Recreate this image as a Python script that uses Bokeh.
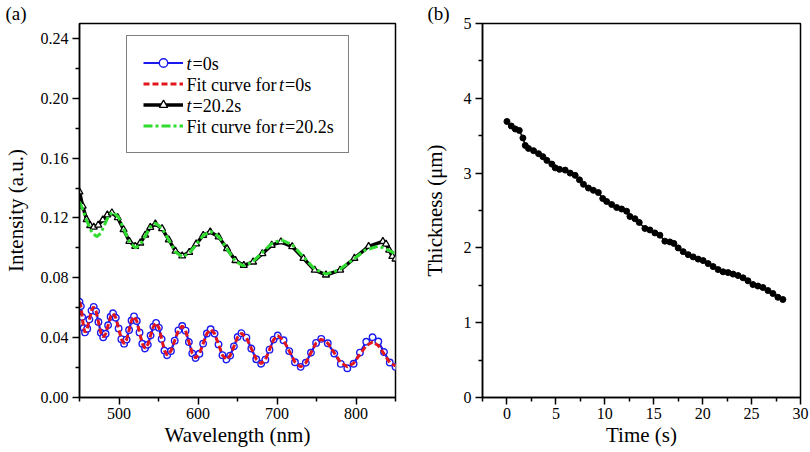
from bokeh.plotting import figure
from bokeh.layouts import row
from bokeh.models import FixedTicker, NumeralTickFormatter, Legend, LegendItem, Label, Range1d, Title
from bokeh.embed import file_html
from bokeh.resources import INLINE

FONT = "Liberation Serif"
BLUE = "#1a1af0"
RED = "#e3161d"
BLACK = "#000000"
GREEN = "#2fdc2f"

# ---------------- panel (a) data ----------------
wl_t0 = [450, 451.75, 453.5, 455.25,
         457, 459.75, 462.5, 465.25,
         468, 471, 474, 477,
         480, 483.1, 486.25, 489.4,
         492.5, 496, 499.5, 503,
         506.5, 509.6, 512.75, 515.9,
         519, 522.5, 526, 529.5,
         533, 536.5, 540, 543.5,
         547, 550.5, 554, 557.5,
         561, 565.75, 570.5, 575.25,
         580, 584.25, 588.5, 592.75,
         597, 601.75, 606.5, 611.25,
         616, 621, 626, 631,
         636, 640.75, 645.5, 650.25,
         655, 661.25, 667.5, 673.75,
         680, 685.25, 690.5, 695.75,
         701, 708.25, 715.5, 722.75,
         730, 736.5, 743, 749.5,
         756, 764.25, 772.5, 780.75,
         789, 797, 805, 813,
         821, 828.25, 835.5, 842.75,
         850]
int_t0 = [0.0640, 0.0610, 0.0538, 0.0465,
          0.0435, 0.0460, 0.0521, 0.0581,
          0.0606, 0.0576, 0.0505, 0.0433,
          0.0403, 0.0426, 0.0483, 0.0540,
          0.0563, 0.0533, 0.0462, 0.0390,
          0.0360, 0.0387, 0.0451, 0.0515,
          0.0542, 0.0511, 0.0435, 0.0359,
          0.0328, 0.0353, 0.0414, 0.0474,
          0.0499, 0.0467, 0.0391, 0.0314,
          0.0282, 0.0311, 0.0380, 0.0449,
          0.0478, 0.0447, 0.0371, 0.0295,
          0.0264, 0.0292, 0.0360, 0.0428,
          0.0456, 0.0427, 0.0355, 0.0283,
          0.0254, 0.0280, 0.0342, 0.0404,
          0.0430, 0.0400, 0.0328, 0.0256,
          0.0226, 0.0253, 0.0320, 0.0387,
          0.0414, 0.0383, 0.0310, 0.0236,
          0.0205, 0.0232, 0.0299, 0.0365,
          0.0392, 0.0363, 0.0294, 0.0225,
          0.0196, 0.0226, 0.0300, 0.0373,
          0.0403, 0.0374, 0.0304, 0.0234,
          0.0205]
fit_t0 = [0.0640, 0.0610, 0.0538, 0.0465,
          0.0435, 0.0460, 0.0521, 0.0581,
          0.0606, 0.0576, 0.0505, 0.0433,
          0.0403, 0.0426, 0.0483, 0.0540,
          0.0563, 0.0533, 0.0462, 0.0390,
          0.0360, 0.0387, 0.0451, 0.0515,
          0.0542, 0.0511, 0.0435, 0.0359,
          0.0328, 0.0353, 0.0414, 0.0474,
          0.0499, 0.0467, 0.0391, 0.0314,
          0.0282, 0.0311, 0.0380, 0.0449,
          0.0478, 0.0447, 0.0371, 0.0295,
          0.0264, 0.0292, 0.0360, 0.0428,
          0.0456, 0.0427, 0.0355, 0.0283,
          0.0254, 0.0280, 0.0342, 0.0404,
          0.0430, 0.0400, 0.0328, 0.0256,
          0.0226, 0.0253, 0.0320, 0.0387,
          0.0414, 0.0383, 0.0310, 0.0236,
          0.0205, 0.0232, 0.0299, 0.0365,
          0.0390, 0.0363, 0.0298, 0.0232,
          0.0205, 0.0229, 0.0288, 0.0347,
          0.0371, 0.0347, 0.0291, 0.0234,
          0.0210]

wl_t20 = [450, 454, 459, 463.5,
          468, 473.75, 479.5, 485.25,
          491, 498.4, 505.75, 513.1,
          520.5, 526.9, 533.25, 539.6,
          546, 554.5, 563, 571.5,
          580, 588.9, 597.75, 606.6,
          615.5, 626.1, 636.75, 647.4,
          658, 669.75, 681.5, 693.25,
          705, 719.25, 733.5, 747.75,
          762, 780, 798, 816,
          834, 838, 842, 846,
          850]
int_t20 = [0.1374, 0.1280, 0.1190, 0.1150,
           0.1139, 0.1153, 0.1187, 0.1221,
           0.1235, 0.1202, 0.1123, 0.1044,
           0.1011, 0.1033, 0.1086, 0.1138,
           0.1160, 0.1129, 0.1054, 0.0978,
           0.0947, 0.0970, 0.1027, 0.1084,
           0.1107, 0.1074, 0.0995, 0.0916,
           0.0883, 0.0906, 0.0962, 0.1018,
           0.1041, 0.1009, 0.0930, 0.0851,
           0.0819, 0.0852, 0.0931, 0.1010,
           0.1043, 0.1026, 0.0985, 0.0943,
           0.0926]

wl_fit20 = [450, 455, 460, 466,
            472, 477, 482, 487,
            492, 499.25, 506.5, 513.75,
            521, 527.25, 533.5, 539.75,
            546, 554.5, 563, 571.5,
            580, 589, 598, 607,
            616, 626.25, 636.5, 646.75,
            657, 669, 681, 693,
            705, 719.25, 733.5, 747.75,
            762, 778.5, 795, 811.5,
            828, 835.5, 843, 850]
fit_t20 = [0.1310, 0.1245, 0.1170, 0.1100,
           0.1075, 0.1099, 0.1158, 0.1216,
           0.1240, 0.1205, 0.1120, 0.1035,
           0.1000, 0.1024, 0.1083, 0.1141,
           0.1165, 0.1132, 0.1053, 0.0973,
           0.0940, 0.0965, 0.1025, 0.1085,
           0.1110, 0.1076, 0.0995, 0.0914,
           0.0880, 0.0905, 0.0967, 0.1029,
           0.1054, 0.1021, 0.0940, 0.0858,
           0.0825, 0.0852, 0.0918, 0.0984,
           0.1011, 0.1000, 0.0980, 0.0960]

a_x_ticks = [500, 600, 700, 800]
a_x_minor = [450, 550, 650, 750, 850]
a_y_ticks = [0.0, 0.04, 0.08, 0.12, 0.16, 0.20, 0.24]
a_y_minor = [0.02, 0.06, 0.10, 0.14, 0.18, 0.22]

# ---------------- panel (b) data ----------------
time_s = [0, 0.44, 0.85, 1.26, 1.63, 1.87, 2.2, 2.72, 3.23, 3.67,
          4.08, 4.59, 4.93, 5.37, 5.95, 6.46, 6.97, 7.41, 7.82, 8.33,
          8.83, 9.34, 9.79, 10.19, 10.7, 11.21, 11.72, 12.23, 12.57, 13.08,
          13.52, 14.1, 14.61, 15.12, 15.63, 16.14, 16.65, 17.06, 17.5, 18.01,
          18.52, 19.03, 19.54, 20.05, 20.56, 21.07, 21.58, 22.09, 22.6, 23.11,
          23.62, 24.13, 24.63, 25.14, 25.65, 26.16, 26.67, 27.18, 27.69, 28.2]
thickness_um = [3.69, 3.63, 3.59, 3.57, 3.47, 3.37, 3.33, 3.30, 3.26, 3.22,
                3.17, 3.12, 3.07, 3.05, 3.04, 3.00, 2.97, 2.91, 2.85, 2.80,
                2.77, 2.74, 2.66, 2.62, 2.58, 2.54, 2.52, 2.49, 2.42, 2.39,
                2.34, 2.26, 2.24, 2.20, 2.17, 2.09, 2.08, 2.06, 2.00, 1.95,
                1.91, 1.88, 1.85, 1.83, 1.79, 1.75, 1.71, 1.68, 1.67, 1.65,
                1.63, 1.60, 1.56, 1.51, 1.49, 1.47, 1.43, 1.39, 1.34, 1.31]

b_x_ticks = [0, 5, 10, 15, 20, 25, 30]
b_x_minor = [-2.5, 2.5, 7.5, 12.5, 17.5, 22.5, 27.5]
b_y_ticks = [0, 1, 2, 3, 4, 5]
b_y_minor = [0.5, 1.5, 2.5, 3.5, 4.5]

H = 452
BOTTOM = 55
FRAME_BOTTOM = H - BOTTOM  # canvas pixel row of the frame bottom


def make_fig(xr, yr, width, bl, br, tag, tag_offset):
    p = figure(width=width, height=H, x_range=xr, y_range=yr,
               output_backend="svg", toolbar_location=None,
               min_border_left=bl, min_border_right=br,
               min_border_top=0, min_border_bottom=BOTTOM)
    p.xgrid.visible = False
    p.ygrid.visible = False
    p.outline_line_color = "black"
    p.outline_line_width = 1.5
    p.outline_line_alpha = 1.0
    p.background_fill_color = "white"
    p.border_fill_color = "white"
    for ax in (p.xaxis[0], p.yaxis[0]):
        ax.axis_line_width = 1.5
        ax.axis_line_color = "black"
        ax.major_tick_line_width = 1.5
        ax.minor_tick_line_width = 1.5
        ax.major_tick_line_color = "black"
        ax.minor_tick_line_color = "black"
        ax.major_tick_out = 7
        ax.major_tick_in = 0
        ax.minor_tick_out = 4
        ax.minor_tick_in = 0
        ax.major_label_text_font = FONT
        ax.major_label_text_font_size = "16px"
        ax.major_label_text_color = "black"
        ax.axis_label_text_font = FONT
        ax.axis_label_text_font_size = "21px"
        ax.axis_label_text_font_style = "normal"
        ax.axis_label_text_color = "black"
        ax.major_label_standoff = 4
    p.xaxis[0].major_label_standoff = 3
    p.xaxis[0].axis_label_standoff = 1
    # panel tag "(a)" / "(b)" in the top border, left of the frame
    p.add_layout(Title(text=tag, align="left", offset=tag_offset, standoff=0,
                       text_font=FONT, text_font_size="19px",
                       text_font_style="normal", text_color="black"), "above")
    return p


def txt(p, x, y, s, style="normal", size="18px"):
    p.add_layout(Label(x=x, y=y, x_units="screen", y_units="screen", text=s,
                       text_font=FONT, text_font_size=size, text_font_style=style,
                       text_align="left", text_baseline="middle", text_color="black"))


# ---------------- panel (a) ----------------
pa = make_fig(Range1d(450, 850), Range1d(0, 0.25), 406, 77, 11, "(a)", -74)
pa.xaxis[0].ticker = FixedTicker(ticks=a_x_ticks, minor_ticks=a_x_minor)
pa.yaxis[0].ticker = FixedTicker(ticks=a_y_ticks, minor_ticks=a_y_minor)
pa.yaxis[0].formatter = NumeralTickFormatter(format="0.00")
pa.yaxis[0].axis_label = "Intensity (a.u.)"
pa.yaxis[0].axis_label_standoff = 10
pa.xaxis[0].axis_label = "Wavelength (nm)"

l0 = pa.line(wl_t0, int_t0, line_color=BLUE, line_width=2.2)
s0 = pa.scatter(wl_t0, int_t0, marker="circle", size=6.5, fill_color="white",
                line_color=BLUE, line_width=1.4)
f0 = pa.line(wl_t0, fit_t0, line_color=RED, line_width=3, line_dash="6 3")
l20 = pa.line(wl_t20, int_t20, line_color=BLACK, line_width=3.5)
s20 = pa.scatter(wl_t20, int_t20, marker="triangle", size=7, fill_color="white",
                 line_color=BLACK, line_width=1.3)
f20 = pa.line(wl_fit20, fit_t20, line_color=GREEN, line_width=3, line_dash="9 3 3 3")

# legend box: 47 px right of the frame's left edge, bottom 244 px above frame bottom
LEG_BOTTOM_REL = 244
LEG_H = 116
legend = Legend(items=[LegendItem(label=" ", renderers=[l0, s0]),
                       LegendItem(label=" ", renderers=[f0]),
                       LegendItem(label=" ", renderers=[l20, s20]),
                       LegendItem(label=" ", renderers=[f20])],
                location=(47, LEG_BOTTOM_REL), padding=16, spacing=0,
                glyph_width=40, glyph_height=21, label_height=21,
                label_width=145, label_standoff=4, margin=0,
                border_line_color="black", border_line_width=1,
                background_fill_alpha=0.0,
                label_text_font=FONT, label_text_font_size="18px")
pa.add_layout(legend)

TX = 107
leg_top = LEG_BOTTOM_REL + LEG_H
rows_y = [leg_top - 16 - 10.5 - 21 * i for i in range(4)]
txt(pa, TX, rows_y[0], "t", "italic")
txt(pa, TX + 6, rows_y[0], "=0s")
txt(pa, TX, rows_y[1], "Fit curve for")
txt(pa, TX + 92.5, rows_y[1], "t", "italic")
txt(pa, TX + 98.5, rows_y[1], "=0s")
txt(pa, TX, rows_y[2], "t", "italic")
txt(pa, TX + 6, rows_y[2], "=20.2s")
txt(pa, TX, rows_y[3], "Fit curve for")
txt(pa, TX + 92.5, rows_y[3], "t", "italic")
txt(pa, TX + 98.5, rows_y[3], "=20.2s")

# ---------------- panel (b) ----------------
pb = make_fig(Range1d(-2.5, 30), Range1d(0, 5), 404, 76, 10, "(b)", -55)
pb.xaxis[0].ticker = FixedTicker(ticks=b_x_ticks, minor_ticks=b_x_minor)
pb.yaxis[0].ticker = FixedTicker(ticks=b_y_ticks, minor_ticks=b_y_minor)
pb.yaxis[0].axis_label = "Thickness (\u03bcm)"
pb.yaxis[0].axis_label_standoff = 14
pb.xaxis[0].axis_label = "Time (s)"

pb.line(time_s, thickness_um, line_color="black", line_width=1.5)
pb.scatter(time_s, thickness_um, marker="circle", size=6, fill_color="black",
           line_color="black")

layout = row(pa, pb, spacing=0)
open("out.html", "w").write(file_html(layout, INLINE))
